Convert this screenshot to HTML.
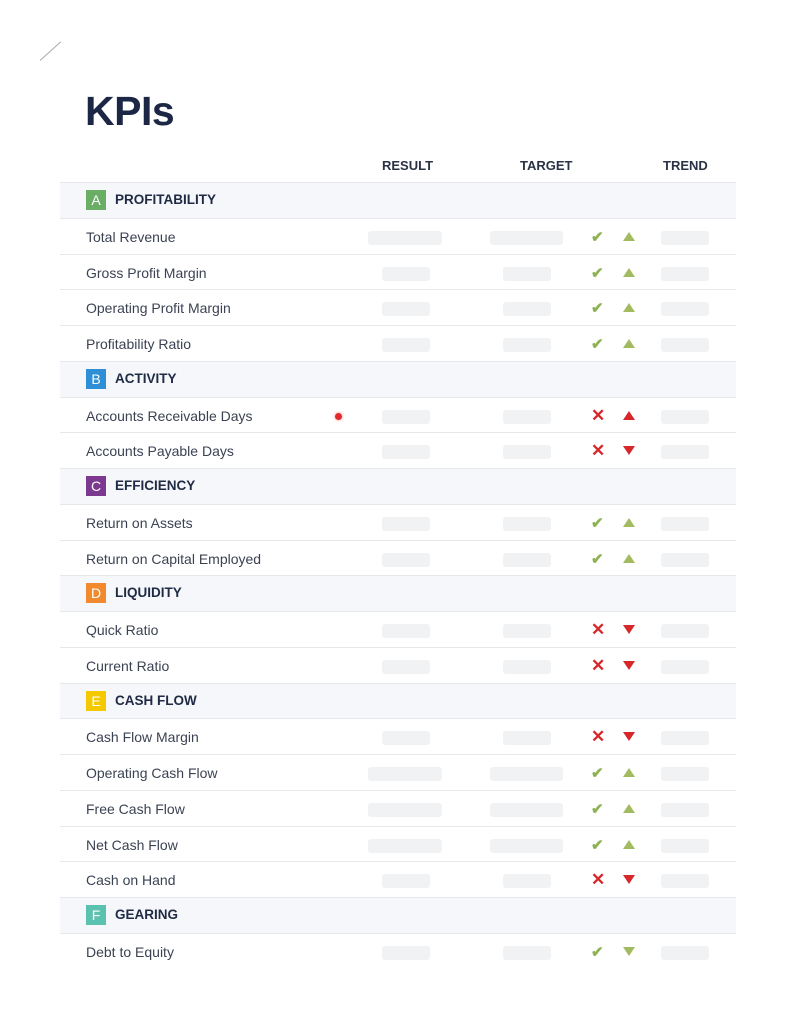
<!DOCTYPE html>
<html><head><meta charset="utf-8"><style>
body{margin:0;width:805px;height:1024px;background:#fff;position:relative;overflow:hidden;font-family:"Liberation Sans",sans-serif;}
.slash{position:absolute;left:40px;top:60px;width:28px;height:1px;background:#aaa;transform:rotate(-42deg);transform-origin:left center;}
h1{position:absolute;left:85px;top:88px;margin:0;font-size:41px;font-weight:bold;color:#1b2745;letter-spacing:-0.5px;}
.hd{position:absolute;top:158px;font-size:13px;font-weight:bold;color:#2a3346;}
#t{position:absolute;left:60px;top:182px;width:676px;}
.r{position:relative;height:35.75px;border-top:1px solid #e6e8ec;box-sizing:border-box;}
.s{background:#f5f7fa;}
.l{position:absolute;left:26px;top:10px;font-size:14px;color:#3b4252;}
.b{position:absolute;left:26px;top:7px;width:20px;height:20px;color:#fff;font-size:14px;text-align:center;line-height:20px;}
.st{position:absolute;left:55px;top:9px;font-size:13.5px;font-weight:bold;color:#1f2a44;}
.p{position:absolute;top:12px;height:14px;background:#f1f2f4;border-radius:3px;}
.rw{left:308px;width:74px}.tw{left:430px;width:73px}
.rn{left:322px;width:48px}.tn{left:443px;width:48px}
.tr{left:601px;width:48px}
.ck{position:absolute;left:531px;top:9px;font-size:15px;color:#8db255;font-weight:bold;}
.x{position:absolute;left:531px;top:8px;font-size:17px;color:#d6282b;font-weight:bold;}
.up{position:absolute;left:563px;top:13px;width:0;height:0;border-left:6px solid transparent;border-right:6px solid transparent;border-bottom:9px solid #a3bb60;}
.dn{position:absolute;left:563px;top:13px;width:0;height:0;border-left:6px solid transparent;border-right:6px solid transparent;border-top:9px solid #d6282b;}
.upr{border-bottom-color:#d6282b}.dng{border-top-color:#a3bb60}
.dot{position:absolute;left:275px;top:15px;width:7px;height:7px;border-radius:50%;background:#e02a2a;box-shadow:0 0 3px #f88;}
</style></head><body>
<div class="slash"></div>
<h1>KPIs</h1>
<div class="hd" style="left:382px">RESULT</div>
<div class="hd" style="left:520px">TARGET</div>
<div class="hd" style="left:663px">TREND</div>
<div id="t">
<div class="r s"><div class="b" style="background:#6aae66">A</div><div class="st">PROFITABILITY</div></div>
<div class="r"><div class="l">Total Revenue</div><div class="p rw"></div><div class="p tw"></div><div class="ck">✔</div><div class="up"></div><div class="p tr"></div></div>
<div class="r"><div class="l">Gross Profit Margin</div><div class="p rn"></div><div class="p tn"></div><div class="ck">✔</div><div class="up"></div><div class="p tr"></div></div>
<div class="r"><div class="l">Operating Profit Margin</div><div class="p rn"></div><div class="p tn"></div><div class="ck">✔</div><div class="up"></div><div class="p tr"></div></div>
<div class="r"><div class="l">Profitability Ratio</div><div class="p rn"></div><div class="p tn"></div><div class="ck">✔</div><div class="up"></div><div class="p tr"></div></div>
<div class="r s"><div class="b" style="background:#2e8fd6">B</div><div class="st">ACTIVITY</div></div>
<div class="r"><div class="l">Accounts Receivable Days</div><div class="dot"></div><div class="p rn"></div><div class="p tn"></div><div class="x">✕</div><div class="up upr"></div><div class="p tr"></div></div>
<div class="r"><div class="l">Accounts Payable Days</div><div class="p rn"></div><div class="p tn"></div><div class="x">✕</div><div class="dn"></div><div class="p tr"></div></div>
<div class="r s"><div class="b" style="background:#7b3a8f">C</div><div class="st">EFFICIENCY</div></div>
<div class="r"><div class="l">Return on Assets</div><div class="p rn"></div><div class="p tn"></div><div class="ck">✔</div><div class="up"></div><div class="p tr"></div></div>
<div class="r"><div class="l">Return on Capital Employed</div><div class="p rn"></div><div class="p tn"></div><div class="ck">✔</div><div class="up"></div><div class="p tr"></div></div>
<div class="r s"><div class="b" style="background:#f08a2c">D</div><div class="st">LIQUIDITY</div></div>
<div class="r"><div class="l">Quick Ratio</div><div class="p rn"></div><div class="p tn"></div><div class="x">✕</div><div class="dn"></div><div class="p tr"></div></div>
<div class="r"><div class="l">Current Ratio</div><div class="p rn"></div><div class="p tn"></div><div class="x">✕</div><div class="dn"></div><div class="p tr"></div></div>
<div class="r s"><div class="b" style="background:#f6c800">E</div><div class="st">CASH FLOW</div></div>
<div class="r"><div class="l">Cash Flow Margin</div><div class="p rn"></div><div class="p tn"></div><div class="x">✕</div><div class="dn"></div><div class="p tr"></div></div>
<div class="r"><div class="l">Operating Cash Flow</div><div class="p rw"></div><div class="p tw"></div><div class="ck">✔</div><div class="up"></div><div class="p tr"></div></div>
<div class="r"><div class="l">Free Cash Flow</div><div class="p rw"></div><div class="p tw"></div><div class="ck">✔</div><div class="up"></div><div class="p tr"></div></div>
<div class="r"><div class="l">Net Cash Flow</div><div class="p rw"></div><div class="p tw"></div><div class="ck">✔</div><div class="up"></div><div class="p tr"></div></div>
<div class="r"><div class="l">Cash on Hand</div><div class="p rn"></div><div class="p tn"></div><div class="x">✕</div><div class="dn"></div><div class="p tr"></div></div>
<div class="r s"><div class="b" style="background:#5cc2b0">F</div><div class="st">GEARING</div></div>
<div class="r"><div class="l">Debt to Equity</div><div class="p rn"></div><div class="p tn"></div><div class="ck">✔</div><div class="dn dng"></div><div class="p tr"></div></div>
</div>
</body></html>
